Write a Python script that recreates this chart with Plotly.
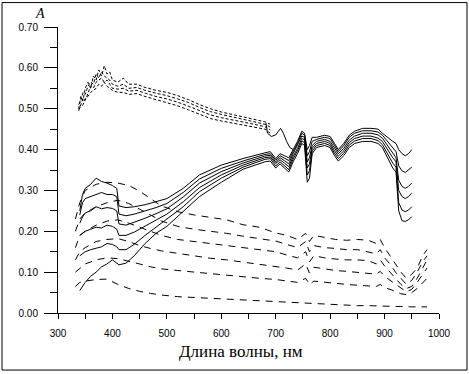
import plotly.graph_objects as go

# ---------------- data ----------------
# solid bundle (6 spectra)
S_X = [340, 345, 350, 360, 370, 380, 390, 400, 408, 412, 425, 440, 460, 480, 500, 530, 560, 600, 640, 680,
       690, 700, 708, 716, 724, 732, 740, 748, 753, 758, 762, 767, 775, 790, 800, 808, 815, 825, 835, 845,
       860, 875, 888, 896, 905, 915, 921, 926, 932, 938, 944, 950]
S1 = [0.25, 0.29, 0.305, 0.315, 0.33, 0.322, 0.318, 0.312, 0.305, 0.262, 0.258, 0.26, 0.265, 0.272, 0.28, 0.305, 0.338, 0.362, 0.378, 0.392,
      0.395, 0.378, 0.39, 0.385, 0.38, 0.40, 0.42, 0.445, 0.44, 0.40, 0.41, 0.43, 0.43, 0.435, 0.432, 0.415, 0.40, 0.415, 0.435, 0.445,
      0.452, 0.452, 0.45, 0.44, 0.43, 0.42, 0.415, 0.40, 0.39, 0.385, 0.39, 0.40]
S2 = [0.24, 0.27, 0.28, 0.285, 0.29, 0.295, 0.29, 0.29, 0.285, 0.242, 0.238, 0.242, 0.25, 0.258, 0.268, 0.295, 0.328, 0.354, 0.372, 0.388,
      0.39, 0.374, 0.385, 0.38, 0.373, 0.395, 0.415, 0.44, 0.435, 0.385, 0.395, 0.42, 0.425, 0.43, 0.427, 0.41, 0.395, 0.41, 0.43, 0.44,
      0.446, 0.446, 0.443, 0.435, 0.42, 0.405, 0.395, 0.36, 0.348, 0.344, 0.35, 0.357]
S3 = [0.22, 0.235, 0.245, 0.25, 0.26, 0.255, 0.258, 0.256, 0.25, 0.218, 0.215, 0.222, 0.232, 0.243, 0.255, 0.284, 0.318, 0.346, 0.367, 0.384,
      0.386, 0.37, 0.38, 0.373, 0.365, 0.39, 0.41, 0.433, 0.43, 0.37, 0.38, 0.41, 0.42, 0.425, 0.42, 0.403, 0.39, 0.403, 0.423, 0.433,
      0.44, 0.44, 0.436, 0.428, 0.41, 0.392, 0.38, 0.325, 0.31, 0.305, 0.31, 0.318]
S4 = [0.19, 0.195, 0.20, 0.205, 0.21, 0.208, 0.215, 0.212, 0.205, 0.19, 0.19, 0.198, 0.212, 0.226, 0.242, 0.272, 0.307, 0.338, 0.362, 0.38,
      0.382, 0.366, 0.375, 0.367, 0.358, 0.383, 0.403, 0.427, 0.424, 0.355, 0.365, 0.403, 0.415, 0.42, 0.415, 0.397, 0.384, 0.397, 0.417, 0.427,
      0.433, 0.433, 0.428, 0.42, 0.40, 0.38, 0.37, 0.30, 0.285, 0.28, 0.285, 0.293]
S5 = [0.14, 0.145, 0.15, 0.155, 0.158, 0.162, 0.17, 0.168, 0.162, 0.155, 0.155, 0.168, 0.19, 0.21, 0.228, 0.26, 0.297, 0.33, 0.357, 0.376,
      0.378, 0.36, 0.37, 0.361, 0.351, 0.377, 0.397, 0.421, 0.417, 0.338, 0.348, 0.397, 0.41, 0.415, 0.41, 0.391, 0.378, 0.391, 0.411, 0.421,
      0.427, 0.427, 0.422, 0.412, 0.39, 0.367, 0.357, 0.27, 0.252, 0.248, 0.252, 0.26]
S6 = [0.055, 0.065, 0.075, 0.09, 0.10, 0.113, 0.12, 0.13, 0.122, 0.118, 0.122, 0.14, 0.17, 0.195, 0.212, 0.248, 0.285, 0.32, 0.352, 0.37,
      0.372, 0.355, 0.365, 0.355, 0.345, 0.37, 0.39, 0.415, 0.41, 0.32, 0.33, 0.39, 0.405, 0.41, 0.405, 0.385, 0.372, 0.385, 0.405, 0.415,
      0.42, 0.42, 0.415, 0.405, 0.38, 0.355, 0.345, 0.25, 0.226, 0.224, 0.228, 0.236]

# upper dashed group
U_X = [338, 342, 346, 350, 355, 360, 365, 370, 375, 380, 385, 390, 395, 400, 410, 420, 430, 445, 460, 480,
       500, 520, 540, 560, 580, 600, 620, 640, 660, 680, 690]
U1 = [0.50, 0.53, 0.52, 0.55, 0.565, 0.55, 0.58, 0.57, 0.595, 0.58, 0.605, 0.585, 0.59, 0.57, 0.565, 0.575, 0.56, 0.56, 0.552, 0.545,
      0.54, 0.532, 0.522, 0.51, 0.50, 0.492, 0.486, 0.48, 0.474, 0.468, 0.462]
U2 = [0.51, 0.52, 0.54, 0.535, 0.555, 0.565, 0.56, 0.585, 0.575, 0.59, 0.58, 0.575, 0.57, 0.56, 0.555, 0.56, 0.55, 0.552, 0.545, 0.538,
      0.532, 0.524, 0.515, 0.503, 0.493, 0.486, 0.48, 0.474, 0.468, 0.462, 0.455]
U3 = [0.495, 0.51, 0.525, 0.52, 0.54, 0.555, 0.55, 0.565, 0.57, 0.575, 0.565, 0.57, 0.56, 0.55, 0.548, 0.55, 0.543, 0.545, 0.538, 0.53,
      0.524, 0.516, 0.506, 0.495, 0.485, 0.478, 0.473, 0.468, 0.462, 0.456, 0.448]
U4 = [0.50, 0.505, 0.51, 0.525, 0.53, 0.54, 0.545, 0.55, 0.56, 0.555, 0.565, 0.555, 0.55, 0.545, 0.54, 0.54, 0.535, 0.537, 0.53, 0.522,
      0.515, 0.507, 0.497, 0.486, 0.476, 0.47, 0.465, 0.46, 0.455, 0.45, 0.44]
# solid tail of the upper group
UT_X = [682, 685, 692, 700, 705, 709, 714, 720, 726, 732]
UT = [0.465, 0.44, 0.432, 0.436, 0.445, 0.452, 0.44, 0.42, 0.405, 0.40]

# lower dashed group
D_X = [332, 340, 350, 370, 390, 410, 430, 450, 470, 490, 520, 550, 580, 610, 640, 670, 700, 720, 740, 755,
       762, 770, 790, 810, 830, 850, 870, 885, 892, 900, 910, 920, 930, 940, 950, 960, 970, 978]
D1 = [0.23, 0.27, 0.30, 0.315, 0.32, 0.318, 0.312, 0.298, 0.28, 0.262, 0.248, 0.24, 0.234, 0.228, 0.216, 0.21, 0.196, 0.19, 0.18, 0.195,
      0.175, 0.19, 0.185, 0.18, 0.178, 0.18, 0.178, 0.17, 0.18, 0.16, 0.14, 0.12, 0.10, 0.085, 0.095, 0.11, 0.14, 0.155]
D2 = [0.20, 0.23, 0.245, 0.26, 0.27, 0.276, 0.268, 0.255, 0.24, 0.225, 0.212, 0.205, 0.2, 0.195, 0.188, 0.182, 0.176, 0.168, 0.16, 0.175,
      0.15, 0.165, 0.16, 0.158, 0.155, 0.155, 0.15, 0.145, 0.155, 0.135, 0.12, 0.10, 0.085, 0.07, 0.08, 0.10, 0.125, 0.14]
D3 = [0.16, 0.19, 0.2, 0.215, 0.225, 0.228, 0.22, 0.21, 0.2, 0.19, 0.18, 0.175, 0.17, 0.165, 0.16, 0.155, 0.15, 0.142, 0.135, 0.15,
      0.125, 0.14, 0.135, 0.132, 0.13, 0.13, 0.128, 0.12, 0.13, 0.115, 0.10, 0.085, 0.07, 0.06, 0.065, 0.085, 0.11, 0.13]
D4 = [0.13, 0.15, 0.16, 0.175, 0.18, 0.182, 0.175, 0.165, 0.158, 0.152, 0.146, 0.14, 0.134, 0.13, 0.125, 0.12, 0.115, 0.11, 0.105, 0.12,
      0.098, 0.112, 0.108, 0.104, 0.102, 0.1, 0.098, 0.095, 0.102, 0.09, 0.08, 0.07, 0.06, 0.052, 0.058, 0.075, 0.095, 0.11]
D5 = [0.10, 0.11, 0.12, 0.13, 0.135, 0.133, 0.127, 0.12, 0.113, 0.108, 0.104, 0.1, 0.097, 0.093, 0.089, 0.085, 0.082, 0.078, 0.075, 0.085,
      0.07, 0.078, 0.075, 0.072, 0.07, 0.068, 0.066, 0.065, 0.07, 0.062, 0.058, 0.052, 0.047, 0.045, 0.05, 0.06, 0.075, 0.085]
D6 = [0.065, 0.075, 0.078, 0.082, 0.083, 0.07, 0.06, 0.053, 0.048, 0.044, 0.04, 0.038, 0.036, 0.034, 0.032, 0.03, 0.028, 0.027, 0.026, 0.025,
      0.024, 0.023, 0.022, 0.02, 0.019, 0.018, 0.018, 0.017, 0.017, 0.017, 0.016, 0.016, 0.016, 0.015, 0.015, 0.015, 0.015, 0.015]

Y_TICKS = [0.0, 0.1, 0.2, 0.3, 0.4, 0.5, 0.6, 0.7]
X_TICKS = [300, 400, 500, 600, 700, 800, 900, 1000]

# ---------------- figure ----------------
fig = go.Figure()
for ys in [U1, U2, U3, U4]:
    fig.add_trace(go.Scatter(x=U_X, y=ys, mode="lines",
                             line=dict(color="black", width=1, dash="3px,2px")))
fig.add_trace(go.Scatter(x=UT_X, y=UT, mode="lines", line=dict(color="black", width=1)))
for ys in [D1, D2, D3, D4, D5, D6]:
    fig.add_trace(go.Scatter(x=D_X, y=ys, mode="lines",
                             line=dict(color="black", width=1, dash="7px,6px")))
for ys in [S1, S2, S3, S4, S5, S6]:
    fig.add_trace(go.Scatter(x=S_X, y=ys, mode="lines", line=dict(color="black", width=1)))

L, R, T, B = 58, 30, 26.5, 60.7
W, H = 469, 374
pw, ph = W - L - R, H - T - B

def px(xp):
    return (xp - L) / pw

def py(yp):
    return (H - B - yp) / ph

fig.update_layout(
    width=W, height=H,
    margin=dict(l=L, r=R, t=T, b=B, pad=0, autoexpand=False),
    paper_bgcolor="white", plot_bgcolor="white",
    showlegend=False,
    font=dict(family="Liberation Sans, Arial", size=10, color="black"),
    xaxis=dict(range=[300, 1000], tickvals=X_TICKS, ticktext=[str(v) for v in X_TICKS],
               showgrid=False, zeroline=False, showline=True, linecolor="black", linewidth=1,
               ticks="outside", ticklen=5, tickwidth=1, tickcolor="black",
               minor=dict(dtick=50, ticks="outside", ticklen=5, tickcolor="black", showgrid=False),
               tickfont=dict(size=10, family="Liberation Sans, Arial"), ticklabelstandoff=6),
    yaxis=dict(range=[0, 0.7], tickvals=Y_TICKS, ticktext=["%.2f" % v for v in Y_TICKS],
               showgrid=False, zeroline=False, showline=True, linecolor="black", linewidth=1,
               ticks="outside", ticklen=13, tickwidth=1, tickcolor="black",
               minor=dict(dtick=0.05, ticks="outside", ticklen=7, tickcolor="black", showgrid=False),
               tickfont=dict(size=10, family="Liberation Sans, Arial"), ticklabelstandoff=4),
    shapes=[
        dict(type="rect", xref="paper", yref="paper", x0=px(2), x1=px(467), y0=py(370.5), y1=py(2),
             line=dict(color="black", width=1), fillcolor="rgba(0,0,0,0)", layer="below"),
    ],
    annotations=[
        dict(text="<i>A</i>", xref="paper", yref="paper", x=px(40), y=py(13), showarrow=False,
             font=dict(family="Liberation Serif, Times New Roman", size=14, color="black"),
             xanchor="center", yanchor="middle"),
        dict(text="Длина волны, нм", xref="paper", yref="paper", x=px(241), y=py(352), showarrow=False,
             font=dict(family="Liberation Serif, Times New Roman", size=17, color="black"),
             xanchor="center", yanchor="middle"),
    ],
)

fig.write_html("out.html", config={"displayModeBar": False, "staticPlot": True},
               post_script="document.body.style.margin='0';document.body.style.overflow='hidden';")
